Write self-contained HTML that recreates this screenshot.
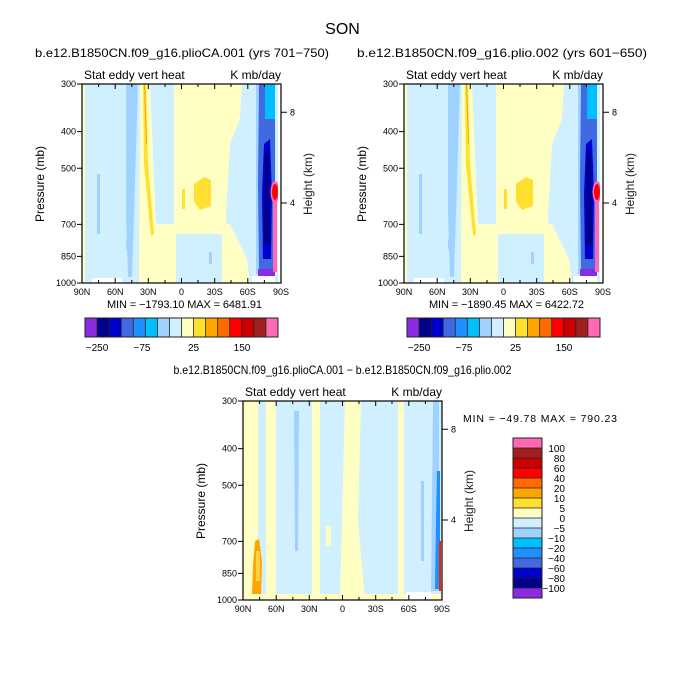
<!DOCTYPE html>
<html><head><meta charset="utf-8"><style>
html,body{margin:0;padding:0;background:#fff;}
svg{display:block;font-family:"Liberation Sans",sans-serif;}
</style></head><body>
<svg width="685" height="685" viewBox="0 0 685 685" xmlns="http://www.w3.org/2000/svg">
<defs>
<clipPath id="cp"><rect x="0" y="0" width="199" height="199"/></clipPath>
<g id="fieldTop">
 <rect x="0" y="0" width="199" height="199" fill="#d0f0ff"/>
 <rect x="0" y="0" width="3" height="199" fill="#ffffc4"/>
 <polygon points="92,0 160,0 158,35 148,60 144,130 145,150 92,150" fill="#ffffc4"/>
 <polygon points="58,0 68,0 74,140 94,140 94,199 57,199" fill="#ffffc4"/>
 <polygon points="140,140 148,140 165,175 168,199 140,199" fill="#ffffc4"/>
 <polygon points="44,0 56,0 52,130 50,193 46,193 44,130" fill="#a0d2ff"/>
 <rect x="15" y="90" width="3" height="60" fill="#a0d2ff"/>
 <polygon points="61,0 64,0 66,80 72,150 69,152 62,80" fill="#ffe030"/>
 <polygon points="62,0 63,0 65,60 64,60" fill="#ffa500"/>
 <polygon points="112,100 122,93 129,96 129,122 118,126 112,118" fill="#ffe030"/>
 <rect x="100" y="105" width="3" height="20" fill="#ffe030"/>
 <rect x="44" y="155" width="3" height="10" fill="#a0d2ff"/>
 <rect x="127" y="168" width="3" height="12" fill="#a0d2ff"/>
 <rect x="174" y="0" width="19" height="190" fill="#a0d2ff"/>
 <polygon points="177,0 193,0 193,185 177,185 176,100" fill="#4169e1"/>
 <rect x="183" y="0" width="10" height="35" fill="#00bfff"/>
 <polygon points="182,60 188,55 190,110 189,175 181,175 180,110" fill="#0000cd"/>
 <polygon points="183,70 187,68 188,160 182,160" fill="#00008b"/>
 <rect x="176" y="185" width="17" height="7" fill="#8a2be2"/>
 <rect x="191" y="110" width="4" height="78" fill="#ff69b4"/>
 <ellipse cx="193" cy="108" rx="4.5" ry="11" fill="#ff69b4"/>
 <ellipse cx="193" cy="108" rx="3" ry="8" fill="#ff0000"/>
 <rect x="196" y="0" width="3" height="199" fill="#ffffff"/>
 <rect x="170" y="192" width="23" height="7" fill="#ffffff"/>
 <rect x="10" y="194" width="30" height="5" fill="#ffffff"/>
</g>
<g id="fieldDiff">
 <rect x="0" y="0" width="199" height="199" fill="#d0f0ff"/>
 <rect x="0" y="0" width="15" height="199" fill="#ffffc4"/>
 <rect x="23" y="0" width="10" height="199" fill="#ffffc4"/>
 <rect x="69" y="0" width="8" height="199" fill="#ffffc4"/>
 <polygon points="102,0 118,0 115,120 122,199 97,199 99,120" fill="#ffffc4"/>
 <rect x="155" y="0" width="6" height="199" fill="#ffffc4"/>
 <rect x="83" y="125" width="5" height="20" fill="#ffffc4"/>
 <polygon points="51,10 56,10 55,150 52,150" fill="#a0d2ff"/>
 <rect x="178" y="80" width="3" height="80" fill="#a0d2ff"/>
 <polygon points="190,0 196,0 196,190 188,190" fill="#a0d2ff"/>
 <polygon points="194,70 197,70 197,188 192,188 193,120" fill="#1e90ff"/>
 <rect x="196" y="140" width="2" height="50" fill="#ff2000"/>
 <polygon points="12,140 16,138 19,160 18,193 9,193 10,165" fill="#ffa500"/>
 <rect x="13" y="150" width="4" height="30" fill="#ffd040"/>
 <rect x="0" y="193" width="199" height="6" fill="#ffffc4"/>
 <rect x="163" y="191" width="25" height="8" fill="#ffffff"/>
</g>
<g id="axes">
 <rect x="0" y="0" width="199" height="199" fill="none" stroke="#000" stroke-width="1.2"/>
 <path d="M0,0h-5M0,47.6h-5M0,84.3h-5M0,140.4h-5M0,172.4h-5M0,199h-5M199,28.3h6M199,119h6
 M33.2,199v-5M66.3,199v-5M99.5,199v-5M132.7,199v-5M165.8,199v-5
 M33.2,0v5M66.3,0v5M99.5,0v5M132.7,0v5M165.8,0v5
 M16.6,199v-3M49.8,199v-3M83,199v-3M116,199v-3M149,199v-3M182.4,199v-3
 M16.6,0v3M49.8,0v3M83,0v3M116,0v3M149,0v3M182.4,0v3" stroke="#000" stroke-width="1" fill="none"/>
 <g font-size="9" text-anchor="end">
  <text x="-6" y="3">300</text><text x="-6" y="50.6">400</text><text x="-6" y="87.3">500</text>
  <text x="-6" y="143.4">700</text><text x="-6" y="175.4">850</text><text x="-6" y="202">1000</text>
 </g>
 <g font-size="9" text-anchor="start"><text x="208" y="31.3">8</text><text x="208" y="122">4</text></g>
 <g font-size="9" text-anchor="middle">
  <text x="0" y="211">90N</text><text x="33.2" y="211">60N</text><text x="66.3" y="211">30N</text>
  <text x="99.5" y="211">0</text><text x="132.7" y="211">30S</text><text x="165.8" y="211">60S</text><text x="199" y="211">90S</text>
 </g>
 <text x="2" y="-5" font-size="12">Stat eddy vert heat</text>
 <text x="199" y="-5" font-size="12" text-anchor="end">K mb/day</text>
 <text transform="translate(-38,100) rotate(-90)" font-size="12" text-anchor="middle">Pressure (mb)</text>
 <text transform="translate(230,100) rotate(-90)" font-size="12" text-anchor="middle" fill="#222">Height (km)</text>
</g>
<g id="hbar">
 <rect x="0" y="0" width="12.06" height="19" fill="#8a2be2"/>
 <rect x="12.06" y="0" width="12.06" height="19" fill="#00008b"/>
 <rect x="24.12" y="0" width="12.06" height="19" fill="#0000cd"/>
 <rect x="36.18" y="0" width="12.06" height="19" fill="#4169e1"/>
 <rect x="48.24" y="0" width="12.06" height="19" fill="#1e90ff"/>
 <rect x="60.3" y="0" width="12.06" height="19" fill="#00bfff"/>
 <rect x="72.36" y="0" width="12.06" height="19" fill="#a0d2ff"/>
 <rect x="84.42" y="0" width="12.06" height="19" fill="#d0f0ff"/>
 <rect x="96.48" y="0" width="12.06" height="19" fill="#ffffc4"/>
 <rect x="108.54" y="0" width="12.06" height="19" fill="#ffe030"/>
 <rect x="120.6" y="0" width="12.06" height="19" fill="#ffa500"/>
 <rect x="132.66" y="0" width="12.06" height="19" fill="#ff6a00"/>
 <rect x="144.72" y="0" width="12.06" height="19" fill="#ff0000"/>
 <rect x="156.78" y="0" width="12.06" height="19" fill="#cc0000"/>
 <rect x="168.84" y="0" width="12.06" height="19" fill="#a02020"/>
 <rect x="180.9" y="0" width="12.1" height="19" fill="#ff69b4"/>
 <path d="M12.06,0v19M24.12,0v19M36.18,0v19M48.24,0v19M60.3,0v19M72.36,0v19M84.42,0v19M96.48,0v19M108.54,0v19M120.6,0v19M132.66,0v19M144.72,0v19M156.78,0v19M168.84,0v19M180.9,0v19" stroke="#222" stroke-width="0.8"/>
 <rect x="0" y="0" width="193" height="19" fill="none" stroke="#222" stroke-width="1"/>
 <g font-size="10" text-anchor="middle">
  <text x="12" y="33">−250</text><text x="57" y="33">−75</text><text x="108.5" y="33">25</text><text x="157" y="33">150</text>
 </g>
</g>
</defs>

<text x="342.5" y="34" font-size="16" text-anchor="middle">SON</text>
<text x="182" y="57" font-size="12" text-anchor="middle" textLength="294" lengthAdjust="spacingAndGlyphs">b.e12.B1850CN.f09_g16.plioCA.001 (yrs 701−750)</text>
<text x="502" y="57" font-size="12" text-anchor="middle" textLength="290" lengthAdjust="spacingAndGlyphs">b.e12.B1850CN.f09_g16.plio.002 (yrs 601−650)</text>

<g transform="translate(82,84)"><g clip-path="url(#cp)"><use href="#fieldTop"/></g><use href="#axes"/></g>
<g transform="translate(404,84)"><g clip-path="url(#cp)"><use href="#fieldTop"/></g><use href="#axes"/></g>

<text x="107" y="308" font-size="11" textLength="155" lengthAdjust="spacing">MIN = −1793.10   MAX = 6481.91</text>
<text x="429" y="308" font-size="11" textLength="155" lengthAdjust="spacing">MIN = −1890.45   MAX = 6422.72</text>

<g transform="translate(85,318)"><use href="#hbar"/></g>
<g transform="translate(407,318)"><use href="#hbar"/></g>

<text x="342.5" y="374" font-size="12" text-anchor="middle" textLength="338" lengthAdjust="spacingAndGlyphs">b.e12.B1850CN.f09_g16.plioCA.001 − b.e12.B1850CN.f09_g16.plio.002</text>
<g transform="translate(243,401)"><g clip-path="url(#cp)"><use href="#fieldDiff"/></g><use href="#axes"/></g>

<text x="463" y="422" font-size="10.5" textLength="154" lengthAdjust="spacing">MIN = −49.78   MAX = 790.23</text>

<g transform="translate(513,438)">
 <rect x="0" y="0" width="29" height="10" fill="#ff69b4"/>
 <rect x="0" y="10" width="29" height="10" fill="#a02020"/>
 <rect x="0" y="20" width="29" height="10" fill="#cc0000"/>
 <rect x="0" y="30" width="29" height="10" fill="#ff0000"/>
 <rect x="0" y="40" width="29" height="10" fill="#ff6a00"/>
 <rect x="0" y="50" width="29" height="10" fill="#ffa500"/>
 <rect x="0" y="60" width="29" height="10" fill="#ffe030"/>
 <rect x="0" y="70" width="29" height="10" fill="#ffffc4"/>
 <rect x="0" y="80" width="29" height="10" fill="#d0f0ff"/>
 <rect x="0" y="90" width="29" height="10" fill="#a0d2ff"/>
 <rect x="0" y="100" width="29" height="10" fill="#00bfff"/>
 <rect x="0" y="110" width="29" height="10" fill="#1e90ff"/>
 <rect x="0" y="120" width="29" height="10" fill="#4169e1"/>
 <rect x="0" y="130" width="29" height="10" fill="#0000cd"/>
 <rect x="0" y="140" width="29" height="10" fill="#00008b"/>
 <rect x="0" y="150" width="29" height="10" fill="#8a2be2"/>
 <path d="M0,10h29M0,20h29M0,30h29M0,40h29M0,50h29M0,60h29M0,70h29M0,80h29M0,90h29M0,100h29M0,110h29M0,120h29M0,130h29M0,140h29M0,150h29" stroke="#222" stroke-width="0.8"/>
 <rect x="0" y="0" width="29" height="160" fill="none" stroke="#222" stroke-width="1"/>
 <g font-size="10" text-anchor="end">
  <text x="52" y="14">100</text><text x="52" y="24">80</text><text x="52" y="34">60</text><text x="52" y="44">40</text>
  <text x="52" y="54">20</text><text x="52" y="64">10</text><text x="52" y="74">5</text><text x="52" y="84">0</text>
  <text x="52" y="94">−5</text><text x="52" y="104">−10</text><text x="52" y="114">−20</text><text x="52" y="124">−40</text>
  <text x="52" y="134">−60</text><text x="52" y="144">−80</text><text x="52" y="154">−100</text>
 </g>
</g>
</svg>
</body></html>
